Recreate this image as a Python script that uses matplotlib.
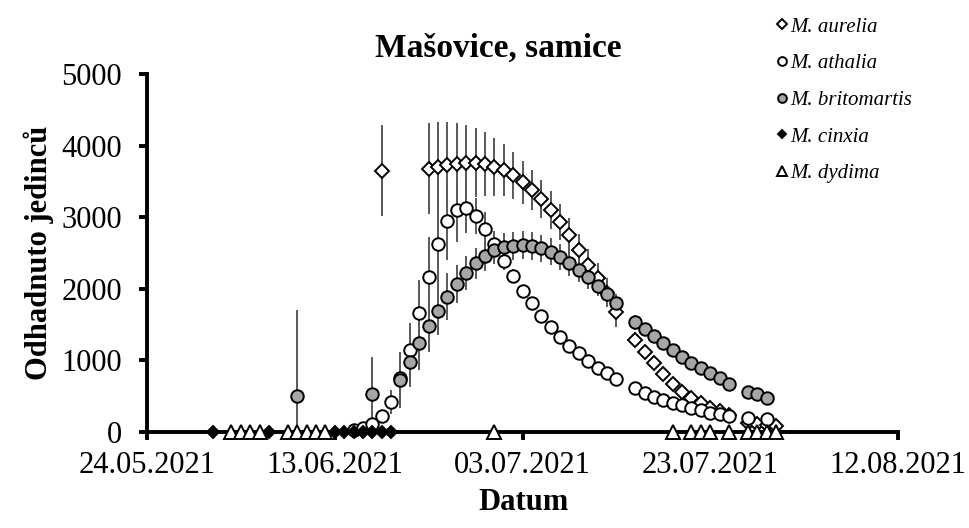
import numpy as np
import matplotlib
matplotlib.use("Agg")
import matplotlib.pyplot as plt
import matplotlib.dates as mdates

plt.rcParams['font.family'] = ['Liberation Serif', 'DejaVu Serif']

start = np.datetime64('2021-05-24')

# day offsets from 24.05.2021 and estimated numbers of individuals
aurelia_days = [25] + list(range(30, 51)) + list(range(52, 63)) + [64, 65, 66, 67]
aurelia = [3650,
           3680, 3697, 3725, 3743, 3761, 3761, 3743, 3706, 3659, 3585, 3490,
           3385, 3254, 3105, 2935, 2745, 2542, 2332, 2148, 1945, 1670,
           1290, 1115, 957, 806, 670, 563, 470, 400, 340, 290, 240,
           130, 110, 95, 85]
aurelia_err = [640,
               630, 628, 600, 568, 527, 480, 442, 404, 359, 330, 300,
               280, 270, 265, 255, 240, 230, 220, 210, 200, 200,
               100, 90, 80, 70, 60, 55, 50, 45, 40, 35, 30,
               25, 20, 20, 20]

athalia_days = list(range(22, 51)) + list(range(52, 63)) + [64, 66]
athalia = [30, 60, 110, 230, 420, 750, 1150, 1657, 2165, 2622, 2942, 3100,
           3128, 3020, 2833, 2630, 2388, 2179, 1969, 1797, 1624, 1471, 1331,
           1205, 1099, 992, 890, 820, 736,
           610, 549, 493, 447, 409, 377, 330, 307, 270, 251, 228,
           190, 185]
athalia_err = [10, 20, 40, 80, 170, 350, 368, 466, 560, 600, 540, 440,
               350, 250, 245, 180, 120, 100, 90, 80, 80, 70, 60,
               60, 50, 50, 40, 40, 40,
               30, 30, 30, 30, 30, 30, 30, 30, 30, 30, 30,
               20, 20]

britomartis_days = [16, 24] + list(range(27, 51)) + list(range(52, 63)) + [64, 65, 66]
britomartis = [507, 531,
               726, 982, 1239, 1480, 1694, 1890, 2067, 2225, 2356, 2460,
               2542, 2579, 2602, 2612, 2598, 2566, 2518, 2449, 2356, 2263,
               2161, 2043, 1927, 1797,
               1530, 1434, 1336, 1239, 1145, 1052, 968, 890, 820, 750, 670,
               563, 525, 480]
britomartis_err = [1200, 520,
                   395, 350, 373, 364, 340, 326, 270, 240, 220, 210,
                   200, 195, 195, 195, 190, 190, 185, 180, 175, 170,
                   160, 150, 140, 130,
                   100, 95, 90, 85, 80, 75, 70, 65, 60, 55, 50,
                   40, 40, 40]

cinxia_days = [7, 13, 20, 21, 22, 23, 24, 25, 26]
cinxia = [0] * len(cinxia_days)

dydima_days = [9, 10, 11, 12, 15, 16, 17, 18, 19, 37, 56, 58, 59, 60, 62, 64, 65, 66, 67]
dydima = [0] * len(dydima_days)

labels = ["M. aurelia", "M. athalia", "M. britomartis", "M. cinxia", "M. dydima"]


def to_dates(days):
    return start + np.array(days).astype('timedelta64[D]')


fig = plt.figure(figsize=(9.7, 5.28), dpi=100)
ax = fig.add_axes([147 / 970, 1 - 432 / 528, 751 / 970, 358 / 528])

bar_kw = dict(fmt='none', ecolor='#595959', elinewidth=1.4, capsize=0, zorder=2)
ax.errorbar(to_dates(aurelia_days), aurelia, yerr=aurelia_err, **bar_kw)
ax.errorbar(to_dates(athalia_days), athalia, yerr=athalia_err, **bar_kw)
ax.errorbar(to_dates(britomartis_days), britomartis, yerr=britomartis_err, **bar_kw)

mk = dict(linestyle='none', markeredgecolor='black', markeredgewidth=1.4, clip_on=False)
h1, = ax.plot(to_dates(aurelia_days), aurelia, marker='D', ms=7,
              markerfacecolor='white', zorder=3, label=labels[0], **mk)
h2, = ax.plot(to_dates(athalia_days), athalia, marker='o', ms=9,
              markerfacecolor='white', zorder=4, label=labels[1], **mk)
h3, = ax.plot(to_dates(britomartis_days), britomartis, marker='o', ms=9,
              markerfacecolor='#a6a6a6', zorder=5, label=labels[2], **mk)
h4, = ax.plot(to_dates(cinxia_days), cinxia, marker='D', ms=6,
              markerfacecolor='black', zorder=6, label=labels[3], **mk)
h5, = ax.plot(to_dates(dydima_days), dydima, marker='^', ms=9.5,
              markerfacecolor='white', zorder=7, label=labels[4], **mk)

ax.set_xlim(start, start + np.timedelta64(80, 'D'))
ax.set_ylim(0, 5000)
ax.set_xticks(start + np.arange(0, 81, 20).astype('timedelta64[D]'))
ax.xaxis.set_major_formatter(mdates.DateFormatter('%d.%m.%Y'))
ax.set_yticks(np.arange(0, 5001, 1000))

for s in ['top', 'right']:
    ax.spines[s].set_visible(False)
for s in ['left', 'bottom']:
    ax.spines[s].set_linewidth(2.8)
ax.tick_params(axis='both', direction='out', width=2.8, length=6, labelsize=22)
ax.tick_params(axis='y', pad=12)
ax.tick_params(axis='x', pad=8)

ax.set_ylabel("Odhadnuto jedinců", fontsize=22, fontweight='bold')
ax.yaxis.label.set_va('center')
ax.yaxis.set_label_coords((39 - 147) / 751, 0.5)
ax.set_xlabel("Datum", fontsize=22, fontweight='bold')
ax.xaxis.label.set_va('center')
ax.xaxis.set_label_coords(0.502, -(502 - 432) / 358)

fig.text(498 / 970, 1 - 48 / 528, "Mašovice, samice", fontsize=24,
         fontweight='bold', ha='center', va='center')

fig.legend(handles=[h1, h2, h3, h4, h5], loc='upper left',
           bbox_to_anchor=(777 / 970, 1 - 17 / 528), frameon=False,
           prop={'family': 'Liberation Serif', 'style': 'italic', 'size': 15},
           handlelength=0.5, handletextpad=0.15, labelspacing=0.82,
           borderpad=0, borderaxespad=0, markerscale=0.7)

fig.savefig("out.png", dpi=100)
